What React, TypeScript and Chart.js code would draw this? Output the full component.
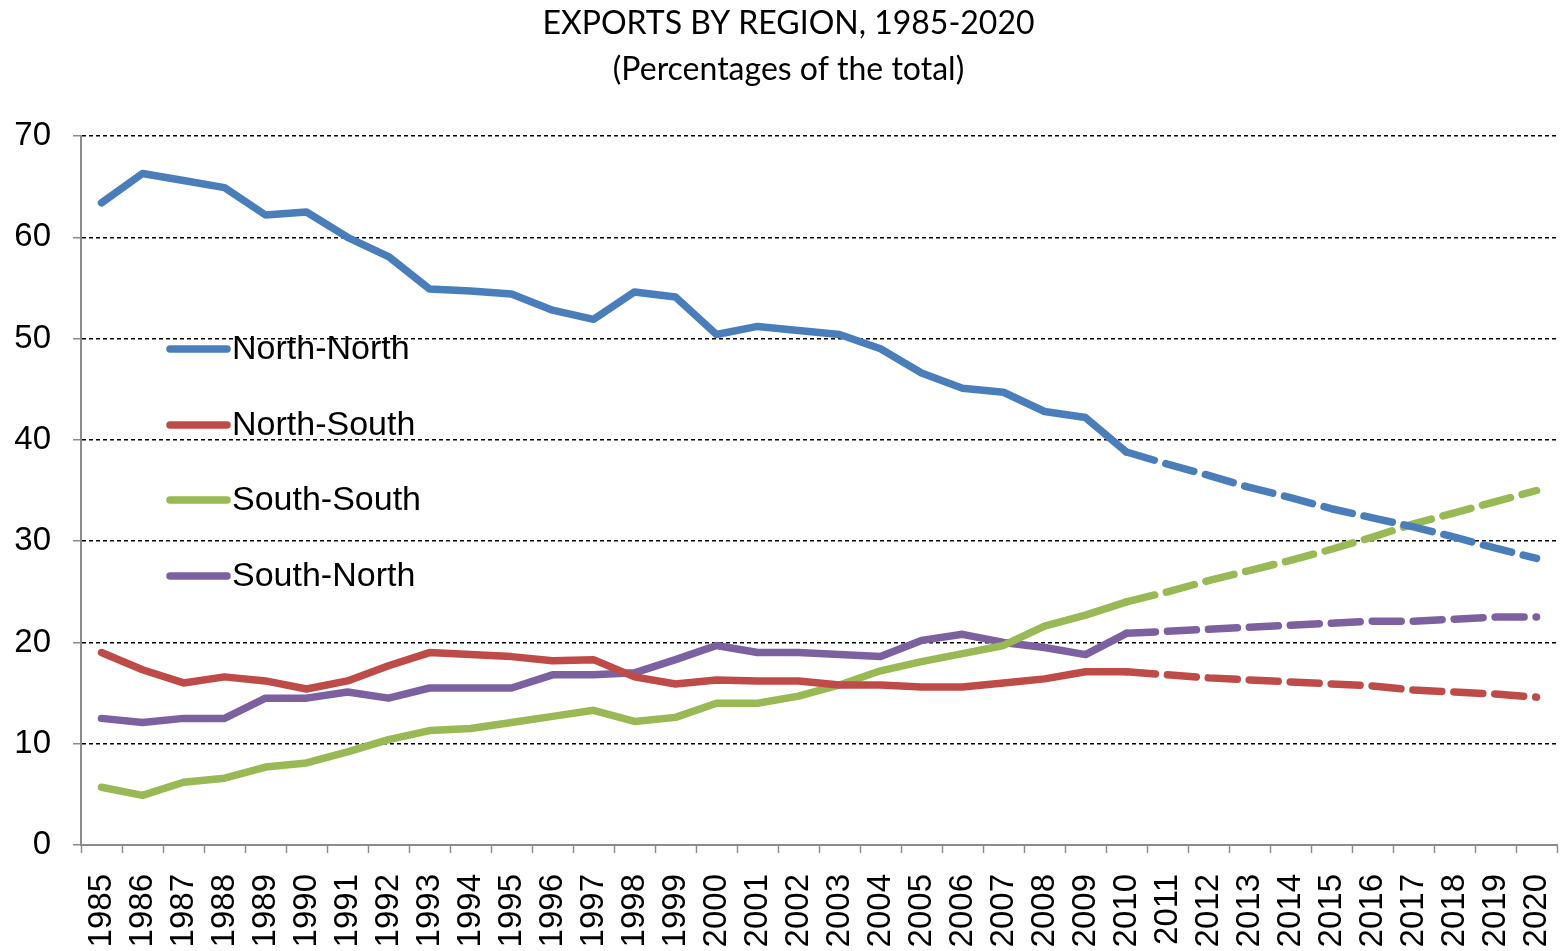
import React, { useEffect, useRef } from "react";
import { Chart, registerables } from "chart.js";

Chart.register(...registerables);

const years: string[] = [
  "1985", "1986", "1987", "1988", "1989", "1990", "1991", "1992", "1993", "1994",
  "1995", "1996", "1997", "1998", "1999", "2000", "2001", "2002", "2003", "2004",
  "2005", "2006", "2007", "2008", "2009", "2010", "2011", "2012", "2013", "2014",
  "2015", "2016", "2017", "2018", "2019", "2020",
];

const northNorth: number[] = [
  63.4, 66.3, 65.6, 64.9, 62.2, 62.5, 60.0, 58.1, 54.9, 54.7,
  54.4, 52.8, 51.9, 54.6, 54.1, 50.4, 51.2, 50.8, 50.4, 49.0,
  46.6, 45.1, 44.7, 42.8, 42.2, 38.8, 37.6, 36.5, 35.3, 34.3,
  33.2, 32.3, 31.4, 30.4, 29.3, 28.3,
];

const northSouth: number[] = [
  19.0, 17.3, 16.0, 16.6, 16.2, 15.4, 16.2, 17.7, 19.0, 18.8,
  18.6, 18.2, 18.3, 16.6, 15.9, 16.3, 16.2, 16.2, 15.8, 15.8,
  15.6, 15.6, 16.0, 16.4, 17.1, 17.1, 16.8, 16.5, 16.3, 16.1,
  15.9, 15.7, 15.3, 15.1, 14.9, 14.6,
];

const southSouth: number[] = [
  5.7, 4.9, 6.2, 6.6, 7.7, 8.1, 9.2, 10.4, 11.3, 11.5,
  12.1, 12.7, 13.3, 12.2, 12.6, 14.0, 14.0, 14.7, 15.8, 17.2,
  18.1, 18.9, 19.7, 21.6, 22.7, 24.0, 25.0, 26.1, 27.1, 28.1,
  29.2, 30.4, 31.7, 32.8, 33.9, 35.0,
];

const southNorth: number[] = [
  12.5, 12.1, 12.5, 12.5, 14.5, 14.5, 15.1, 14.5, 15.5, 15.5,
  15.5, 16.8, 16.8, 17.0, 18.3, 19.7, 19.0, 19.0, 18.8, 18.6,
  20.2, 20.8, 20.0, 19.5, 18.8, 20.9, 21.1, 21.3, 21.5, 21.7,
  21.9, 22.1, 22.1, 22.3, 22.5, 22.5,
];

const seriesNames: string[] = ["North-North", "North-South", "South-South", "South-North"];
const seriesColors: string[] = ["#4A7EBB", "#BE4B48", "#98B954", "#7D60A0"];
const titleLines: string[] = ["EXPORTS BY REGION, 1985-2020", "(Percentages of the total)"];
const projectionStartIndex = 25; // 2010: dashed afterwards

const LINE_W = 7.5;

const titleShiftPlugin = {
  id: "titleShift",
  afterLayout(chart: any) {
    if (chart.titleBlock) {
      chart.titleBlock.left += 20;
    }
  },
};

const legendPlugin = {
  id: "insideLegend",
  afterDatasetsDraw(chart: any) {
    const ctx = chart.ctx;
    const x0 = 170;
    const x1 = 227;
    const ys = [349, 425, 500, 576];
    ctx.save();
    chart.data.datasets.forEach((ds: any, i: number) => {
      const y = ys[i];
      ctx.beginPath();
      ctx.strokeStyle = ds.borderColor;
      ctx.lineWidth = LINE_W;
      ctx.lineCap = "round";
      ctx.setLineDash([]);
      ctx.moveTo(x0, y);
      ctx.lineTo(x1, y);
      ctx.stroke();
      ctx.fillStyle = "#000";
      ctx.font = "34px 'Liberation Sans', Arial, sans-serif";
      ctx.textBaseline = "middle";
      ctx.textAlign = "left";
      ctx.fillText(ds.label, 232, y + 1);
    });
    ctx.restore();
  },
};

export default function App() {
  const canvasRef = useRef<HTMLCanvasElement | null>(null);

  useEffect(() => {
    if (!canvasRef.current) return;
    const allSeries = [northNorth, northSouth, southSouth, southNorth];
    const chart = new Chart(canvasRef.current, {
      type: "line",
      data: {
        labels: years,
        datasets: allSeries.map((values, i) => ({
          label: seriesNames[i],
          data: values,
          borderColor: seriesColors[i],
          backgroundColor: seriesColors[i],
          borderWidth: LINE_W,
          pointRadius: 0,
          pointHoverRadius: 0,
          tension: 0,
          borderCapStyle: "round",
          borderJoinStyle: "round",
          segment: {
            borderCapStyle: () => "round",
            borderDash: (ctx: any) => (ctx.p0DataIndex >= projectionStartIndex ? [29, 12] : undefined),
          },
        })),
      },
      options: {
        responsive: false,
        animation: false,
        layout: { padding: { left: 0, right: 5, top: 0, bottom: 0 } },
        plugins: {
          legend: { display: false },
          tooltip: { enabled: false },
          title: {
            display: true,
            text: titleLines,
            color: "#000",
            font: { family: "Lato, 'Open Sans', sans-serif", size: 32, weight: "normal", lineHeight: 46 / 32 },
            padding: { top: 1, bottom: 43 },
          },
        },
        scales: {
          x: {
            offset: true,
            grid: {
              offset: true,
              drawOnChartArea: false,
              drawTicks: true,
              tickLength: 8,
              tickColor: "#8c8c8c",
              tickWidth: 1.5,
            },
            border: { display: true, color: "#8c8c8c", width: 2 },
            ticks: {
              autoSkip: false,
              maxRotation: 90,
              minRotation: 90,
              padding: 21,
              color: "#000",
              font: { family: "'Liberation Sans', Arial, sans-serif", size: 33 },
            },
            afterFit: (scale: any) => {
              scale.height = 106;
              scale.paddingLeft = 0;
              scale.paddingRight = 0;
            },
          },
          y: {
            min: 0,
            max: 70,
            ticks: {
              stepSize: 10,
              padding: 22,
              color: "#000",
              font: { family: "'Liberation Sans', Arial, sans-serif", size: 33 },
            },
            grid: {
              color: (ctx: any) => (ctx.tick && ctx.tick.value === 0 ? "rgba(0,0,0,0)" : "#000"),
              lineWidth: 1.5,
              tickBorderDash: [],
              tickColor: "#8c8c8c",
              tickWidth: 1.5,
              tickLength: 8,
              drawTicks: true,
            },
            border: { display: true, color: "#8c8c8c", width: 2, dash: [4, 3] },
            afterFit: (scale: any) => {
              scale.width = 81;
            },
          },
        },
      },
      plugins: [titleShiftPlugin, legendPlugin],
    } as any);
    return () => chart.destroy();
  }, []);

  return (
    <div style={{ position: "fixed", left: 0, top: 0, width: 1562, height: 951, overflow: "hidden", background: "#fff" }}>
      <canvas ref={canvasRef} width={1562} height={951} style={{ width: 1562, height: 951, display: "block" }} />
    </div>
  );
}
